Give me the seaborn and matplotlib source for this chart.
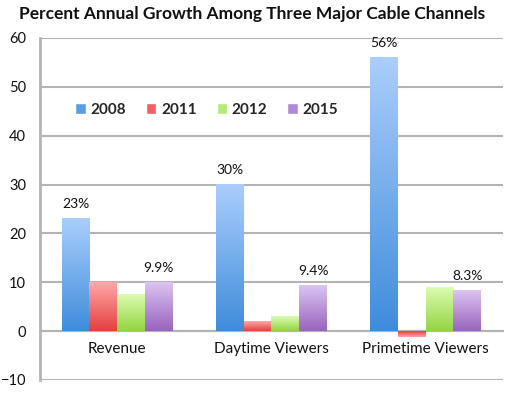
import numpy as np
import pandas as pd
import matplotlib
matplotlib.use("Agg")
import matplotlib.pyplot as plt
import seaborn as sns
from matplotlib.colors import LinearSegmentedColormap
from matplotlib.patches import Patch

categories = ["Revenue", "Daytime Viewers", "Primetime Viewers"]
years = ["2008", "2011", "2012", "2015"]
growth_2008 = [23, 30, 56]
growth_2011 = [10, 2, -1.2]
growth_2012 = [7.5, 3, 8.8]
growth_2015 = [9.9, 9.4, 8.3]
label_2008 = ["23%", "30%", "56%"]
label_2015 = ["9.9%", "9.4%", "8.3%"]

# light (top) / dark (bottom) for each series
tops = ["#abcefc", "#ffa8a8", "#dcfcb0", "#dcc4f2"]
bottoms = ["#3f8cdb", "#e63e3e", "#93d444", "#9863bd"]
grid_col = "#b4b4b4"

df = pd.DataFrame({
    "category": categories * 4,
    "year": [y for y in years for _ in categories],
    "growth": growth_2008 + growth_2011 + growth_2012 + growth_2015,
})

sns.set_style("white")
plt.rcParams["font.family"] = ["Lato", "DejaVu Sans"]

fig = plt.figure(figsize=(5.21, 3.95), dpi=100)
ax = fig.add_axes([0.077, 0.038, 0.888, 0.866])

sns.barplot(data=df, x="category", y="growth", hue="year", order=categories,
            hue_order=years, palette=bottoms, width=0.72, ax=ax,
            edgecolor="none", linewidth=0, legend=False, zorder=3)

ax.set_ylim(-10, 60)
ax.set_yticks(range(-10, 61, 10))
ax.yaxis.grid(True, color=grid_col, linewidth=1.5, zorder=0)
ax.set_xlabel("")
ax.set_ylabel("")

# replace flat fills by vertical gradients, one per bar
for container, top, bot in zip(ax.containers, tops, bottoms):
    cmap = LinearSegmentedColormap.from_list("g", [bot, top])
    for bar in container:
        x0, y0 = bar.get_x(), bar.get_y()
        w, h = bar.get_width(), bar.get_height()
        lo, hi = min(y0, y0 + h), max(y0, y0 + h)
        bar.set_facecolor("none")
        grad = np.linspace(0, 1, 256).reshape(-1, 1)
        if h < 0:
            grad = grad[::-1]
        ax.imshow(grad, cmap=cmap, aspect="auto", origin="lower",
                  extent=(x0, x0 + w, lo, hi), zorder=3)
ax.set_xlim(-0.5, len(categories) - 0.5)

for bar, txt in zip(ax.containers[0], label_2008):
    ax.annotate(txt, (bar.get_x() + bar.get_width() / 2, bar.get_height()),
                xytext=(0, 6), textcoords="offset points", ha="center",
                va="bottom", fontsize=10, color="#111111", zorder=5)
for bar, txt in zip(ax.containers[3], label_2015):
    ax.annotate(txt, (bar.get_x() + bar.get_width() / 2, bar.get_height()),
                xytext=(0, 6), textcoords="offset points", ha="center",
                va="bottom", fontsize=10, color="#111111", zorder=5)

for s in ["top", "right"]:
    ax.spines[s].set_visible(False)
ax.spines["left"].set_color(grid_col)
ax.spines["left"].set_linewidth(2)
ax.spines["bottom"].set_position(("data", 0))
ax.spines["bottom"].set_color(grid_col)
ax.spines["bottom"].set_linewidth(1.5)
ax.tick_params(axis="x", length=0, pad=8, labelsize=11, colors="#111111")
ax.tick_params(axis="y", length=0, pad=10, labelsize=10.5, colors="#111111")

handles = [Patch(facecolor=c, label=y) for c, y in zip(["#5a9de4", "#f06060", "#b4e878", "#b08ad2"], years)]
ax.legend(handles=handles, loc="center", bbox_to_anchor=(0.36, 0.79), ncol=4,
          frameon=False, handlelength=0.7, handleheight=0.7, handletextpad=0.3,
          columnspacing=1.3, prop={"weight": "bold", "size": 11})

fig.suptitle("Percent Annual Growth Among Three Major Cable Channels",
             x=0.483, y=0.985, fontsize=12.5, fontweight="bold", color="#111111")

fig.savefig("out.png", dpi=100)
